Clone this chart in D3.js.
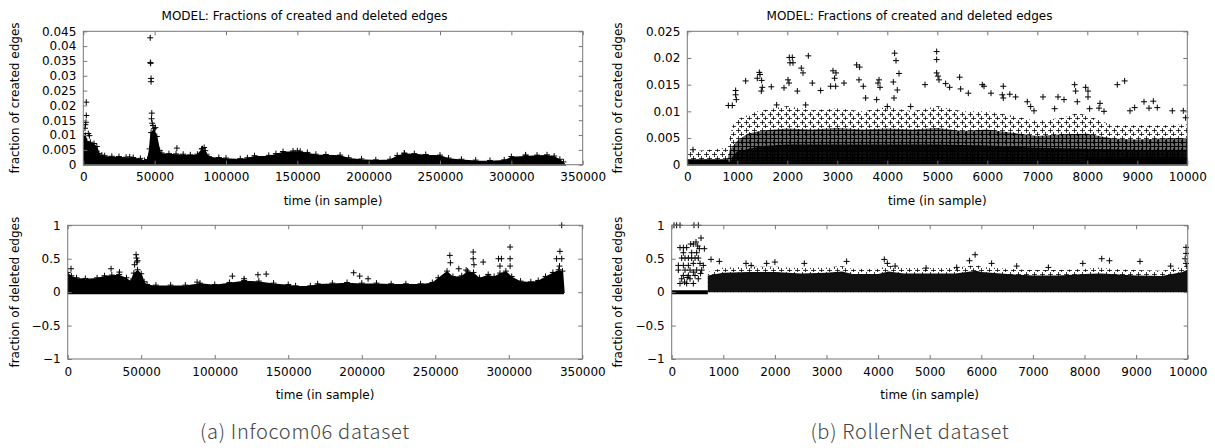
<!DOCTYPE html>
<html>
<head>
<meta charset="utf-8">
<script src="https://cdn.jsdelivr.net/npm/d3@7"></script>
<style>
  body { margin: 0; background: #fff; }
  svg { display: block; }
  .tick text { font-family: "DejaVu Sans", sans-serif; font-size: 12px; fill: #000; }
  .lbl { font-family: "DejaVu Sans", sans-serif; font-size: 12px; fill: #000; }
  .cap { font-family: "Noto Sans CJK KR", "Noto Sans", sans-serif; font-size: 20px; font-weight: 300; letter-spacing: 0.7px; fill: #444; }
</style>
</head>
<body>
<svg id="chart" width="1215" height="448"></svg>
<script>
// ---- data ----

// tick values
const infocomTicksX = [0, 50000, 100000, 150000, 200000, 250000, 300000, 350000];
const rollerTicksX = [0, 1000, 2000, 3000, 4000, 5000, 6000, 7000, 8000, 9000, 10000];
const infocomCreatedTicksY = [0, 0.005, 0.01, 0.015, 0.02, 0.025, 0.03, 0.035, 0.04, 0.045];
const rollerCreatedTicksY = [0, 0.005, 0.01, 0.015, 0.02, 0.025];
const deletedTicksY = [-1, -0.5, 0, 0.5, 1];

// Infocom06, created edges: upper edge of the solid black mass
const infocomCreatedEnv = [[0,0.0102],[1500,0.0095],[2500,0.0075],[5000,0.0072],[7500,0.0068],[9500,0.0058],[11000,0.0034],[13000,0.0029],[15000,0.0027],[20000,0.0025],[25000,0.0024],[30000,0.0022],[35000,0.0021],[40000,0.0018],[43000,0.0011],[45000,0.0014],[46500,0.005],[47500,0.0105],[49500,0.0118],[51500,0.0092],[53500,0.0045],[55000,0.0036],[60000,0.0034],[65000,0.0033],[70000,0.0032],[75000,0.0030],[80000,0.0032],[83000,0.0050],[85500,0.0044],[88000,0.0024],[95000,0.0021],[100000,0.0019],[110000,0.0017],[115000,0.0020],[120000,0.0027],[130000,0.0028],[135000,0.0034],[140000,0.0041],[147000,0.0043],[152000,0.0042],[157000,0.0038],[163000,0.0032],[170000,0.0031],[180000,0.0029],[186000,0.0020],[195000,0.0016],[205000,0.0013],[215000,0.0015],[220000,0.0028],[225000,0.0035],[232000,0.0034],[240000,0.0031],[250000,0.0029],[256000,0.0019],[265000,0.0015],[275000,0.0012],[285000,0.0011],[295000,0.0013],[300000,0.0024],[310000,0.0027],[318000,0.0029],[325000,0.0030],[330000,0.0026],[334000,0.0015],[336500,0.0006],[337500,0]];
const infocomCreatedPts = [[46900,0.0428],[47200,0.0342],[47000,0.0345],[47500,0.0291],[47500,0.0280],[48000,0.0174],[47800,0.0155],[48300,0.0140],[48800,0.0132],[50500,0.0125],[2100,0.0211],[2100,0.0166],[1800,0.0143],[1500,0.0135],[1200,0.0123],[4300,0.0098],[3500,0.0105],[65600,0.0056],[84700,0.0058],[83500,0.0054],[32500,0.0026],[150000,0.0047],[225000,0.0039],[310000,0.0033]];

// Infocom06, deleted edges
const infocomDeletedEnv = [[0,0.28],[2500,0.23],[6000,0.2],[12000,0.19],[20000,0.2],[25000,0.23],[30000,0.24],[35000,0.25],[40000,0.2],[43000,0.15],[45000,0.27],[47500,0.32],[50000,0.26],[52000,0.14],[54000,0.1],[60000,0.09],[70000,0.09],[80000,0.09],[90000,0.12],[100000,0.1],[110000,0.13],[120000,0.16],[130000,0.15],[140000,0.12],[150000,0.1],[155000,0.08],[165000,0.08],[170000,0.11],[180000,0.12],[190000,0.13],[200000,0.12],[210000,0.12],[220000,0.11],[230000,0.11],[240000,0.11],[248000,0.13],[252000,0.2],[258000,0.3],[262000,0.22],[268000,0.23],[272000,0.3],[276000,0.28],[280000,0.2],[286000,0.25],[290000,0.22],[294000,0.27],[298000,0.3],[302000,0.22],[308000,0.15],[315000,0.14],[320000,0.16],[325000,0.22],[330000,0.28],[334000,0.32],[336500,0.3],[337500,0]];
const infocomDeletedPts = [[2250,0.35],[46500,0.56],[46800,0.51],[45500,0.41],[47500,0.47],[47000,0.45],[29500,0.35],[35200,0.3],[194500,0.29],[198600,0.24],[204300,0.2],[129400,0.26],[135000,0.27],[112000,0.24],[259900,0.55],[260300,0.44],[275800,0.6],[275800,0.5],[276300,0.41],[282600,0.45],[293000,0.5],[295000,0.5],[294000,0.39],[300900,0.675],[300900,0.5],[300900,0.39],[334800,0.61],[332500,0.5],[336000,0.5],[334500,0.39],[336000,1.0],[271000,0.33],[266000,0.35],[88000,0.15],[120000,0.2]];

// RollerNet, created edges: thin base strip, darkest lower mass, dense core and sparse cloud above it
const rollerCreatedBase = [[0,0.0009],[800,0.0009],[830,0.0002],[7950,0.0002],[8000,0.0012],[10000,0.0012]];
const rollerCreatedDeep = [[0,0],[850,0],[900,0.0015],[1000,0.0025],[1500,0.0035],[2000,0.0038],[3000,0.0038],[4000,0.0038],[5000,0.0038],[6000,0.0036],[7000,0.0032],[8000,0.0030],[9000,0.0028],[10000,0.0028]];
const rollerCreatedCore = [[0,0.0009],[800,0.0009],[850,0.0028],[1000,0.0045],[1200,0.0058],[1500,0.0064],[2000,0.0068],[2500,0.0066],[3000,0.0069],[3500,0.0066],[4000,0.0068],[4500,0.0066],[5000,0.0069],[5500,0.0063],[6000,0.0066],[6500,0.0060],[7000,0.0054],[7500,0.0057],[8000,0.0058],[8500,0.0049],[9000,0.0047],[9500,0.0049],[10000,0.0050]];
const rollerCreatedCloud = [[0,0.0024],[800,0.0032],[900,0.0072],[1000,0.0085],[1400,0.0100],[2000,0.0110],[2500,0.0102],[3000,0.0106],[3500,0.0100],[4000,0.0108],[4500,0.0100],[5000,0.0110],[5500,0.0100],[6000,0.0100],[6500,0.0092],[7000,0.0082],[7500,0.0088],[7800,0.0097],[8000,0.0092],[8500,0.0074],[9000,0.0074],[9500,0.0074],[10000,0.0076]];
const rollerCreatedPts = [[114,0.0028],[1167,0.0157],[1400,0.0162],[1440,0.0173],[1454,0.0169],[967,0.0139],[967,0.0131],[981,0.0122],[1487,0.0158],[1500,0.0145],[1480,0.0138],[1680,0.0146],[821,0.0111],[900,0.0111],[2040,0.0201],[2100,0.0201],[2054,0.0191],[2114,0.0191],[2420,0.0204],[2280,0.0181],[2314,0.0172],[2014,0.0159],[2034,0.0153],[2500,0.0153],[1787,0.0112],[1934,0.0144],[2200,0.0138],[2367,0.0112],[2667,0.0139],[2914,0.0176],[2974,0.0172],[2947,0.0162],[2867,0.0147],[2967,0.0147],[3134,0.0153],[3387,0.0187],[3447,0.0183],[3434,0.0159],[3520,0.0147],[3834,0.0159],[3814,0.0153],[3854,0.0145],[3787,0.0122],[3567,0.0125],[4147,0.0209],[4174,0.0195],[4120,0.0155],[4234,0.0171],[4200,0.0140],[4134,0.0125],[4000,0.0109],[4467,0.0109],[4754,0.0150],[4987,0.0212],[4987,0.0197],[4987,0.0172],[5014,0.0166],[5034,0.0159],[5167,0.0152],[5447,0.0164],[5247,0.0145],[5467,0.0142],[5620,0.0134],[5900,0.0150],[5934,0.0147],[6074,0.0134],[6320,0.0147],[6300,0.0131],[6320,0.0125],[6450,0.0132],[6567,0.0127],[6800,0.0118],[6867,0.0109],[6934,0.0101],[7114,0.0127],[7414,0.0127],[7534,0.0122],[7347,0.0105],[7747,0.0150],[7767,0.0138],[7800,0.0118],[7967,0.0145],[8014,0.0138],[8014,0.0127],[8047,0.0105],[8254,0.0115],[8234,0.0106],[8600,0.0150],[8747,0.0157],[8334,0.0100],[8854,0.0101],[8947,0.0107],[9134,0.0118],[9234,0.0106],[9320,0.0119],[9400,0.0107],[9700,0.0101],[9920,0.0101],[9967,0.0088]];

// RollerNet, deleted edges
const rollerDeletedZeroRun = [[0,0],[700,0]];
const rollerDeletedCore = [[700,0],[700,0.25],[1000,0.29],[1500,0.3],[2000,0.3],[2500,0.28],[3000,0.29],[3300,0.31],[3500,0.27],[4000,0.27],[4200,0.31],[4500,0.28],[5000,0.28],[5500,0.28],[5900,0.32],[6000,0.3],[6500,0.27],[7000,0.25],[7500,0.25],[8000,0.27],[8300,0.28],[8500,0.27],[9000,0.25],[9500,0.24],[9900,0.3],[10000,0.34]];
const rollerDeletedCloud = [[700,0.3],[1000,0.37],[1500,0.38],[2000,0.38],[2500,0.36],[3000,0.37],[3300,0.39],[3500,0.35],[4000,0.35],[4200,0.4],[4500,0.36],[5000,0.36],[5500,0.36],[5900,0.41],[6000,0.38],[6500,0.35],[7000,0.33],[7500,0.33],[8000,0.35],[8300,0.37],[8500,0.35],[9000,0.33],[9500,0.32],[9900,0.38],[10000,0.43]];
const rollerDeletedPts = [[45,1],[96,1],[161,1],[432,1],[516,1],[568,0.81],[471,0.75],[368,0.72],[419,0.72],[161,0.666],[226,0.666],[290,0.666],[504,0.69],[536,0.65],[633,0.65],[484,0.59],[226,0.59],[387,0.59],[193,0.51],[258,0.51],[323,0.51],[387,0.51],[452,0.51],[516,0.51],[129,0.4],[226,0.4],[323,0.4],[419,0.43],[549,0.43],[129,0.33],[258,0.33],[355,0.33],[484,0.33],[581,0.33],[226,0.25],[323,0.25],[452,0.25],[193,0.2],[355,0.2],[516,0.2],[161,0.13],[290,0.13],[419,0.13],[613,0.4],[560,0.28],[420,0.3],[300,0.22],[250,0.15],[762,0.49],[923,0.46],[1440,0.43],[1540,0.4],[1840,0.43],[2000,0.45],[2570,0.43],[3390,0.46],[4120,0.49],[4180,0.43],[4330,0.39],[4930,0.36],[5523,0.37],[5880,0.56],[5770,0.47],[6200,0.43],[6686,0.39],[7300,0.37],[7967,0.43],[8334,0.5],[8483,0.47],[9075,0.46],[9670,0.39],[9967,0.67],[9967,0.58],[9967,0.43],[9950,0.5]];

// ---- layout ----
const svg = d3.select("#chart");
const plus = "M-3,0H3M0,-3V3";

// textures made of small "+" marks for the scattered clouds
const defs = svg.append("defs");
const dense = defs.append("pattern").attr("id", "dense")
  .attr("patternUnits", "userSpaceOnUse").attr("width", 4).attr("height", 4);
dense.append("rect").attr("width", 4).attr("height", 4).attr("fill", "#000").attr("fill-opacity", 0.55);
dense.append("path").attr("d", "M0,2.5H4M2.5,0V4").attr("stroke", "#000").attr("stroke-width", 1.2);
const deep = defs.append("pattern").attr("id", "deep")
  .attr("patternUnits", "userSpaceOnUse").attr("width", 5).attr("height", 3);
deep.append("rect").attr("width", 5).attr("height", 3).attr("fill", "#000").attr("fill-opacity", 0.85);
deep.append("path").attr("d", "M0,1.5H5M2.5,0V3").attr("stroke", "#000").attr("stroke-width", 1);
const sparse = defs.append("pattern").attr("id", "sparse")
  .attr("patternUnits", "userSpaceOnUse").attr("width", 8).attr("height", 8);
sparse.append("path").attr("d", "M0,2.5H5M2.5,0V5M3,6.5H8M5.5,4V9")
  .attr("stroke", "#000").attr("stroke-width", 1).attr("stroke-opacity", 0.75);

function panel(p) {
  const x = d3.scaleLinear().domain(p.xDomain).range([p.left, p.right]);
  const y = d3.scaleLinear().domain(p.yDomain).range([p.bottom, p.top]);
  const g = svg.append("g");

  const clipId = "clip" + p.id;
  svg.append("clipPath").attr("id", clipId)
    .append("rect").attr("x", p.left).attr("y", p.top - 4)
    .attr("width", p.right - p.left + 4).attr("height", p.bottom - p.top + 6);
  const marks = g.append("g").attr("clip-path", "url(#" + clipId + ")");

  const area = d3.area().x(d => x(d[0])).y0(y(0)).y1(d => y(d[1]));

  (p.layers || []).forEach(l => {
    marks.append("path").datum(l.data)
      .attr("fill", l.fill)
      .attr("stroke", l.fill === "#000" ? "#000" : "none").attr("stroke-width", 1.5)
      .attr("d", area);
    if (l.fuzz) {
      marks.append("g").selectAll("path").data(l.data.slice(0, -1)).join("path")
        .attr("transform", d => `translate(${x(d[0])},${y(d[1]) - 1})`)
        .attr("d", plus).attr("stroke", "#000").attr("stroke-width", 1);
    }
  });
  if (p.zeroLine) {
    marks.append("line")
      .attr("x1", x(p.zeroLine[0][0])).attr("x2", x(p.zeroLine[1][0]))
      .attr("y1", y(0)).attr("y2", y(0))
      .attr("stroke", "#000").attr("stroke-width", 4);
  }
  marks.append("g").selectAll("path").data(p.points).join("path")
    .attr("transform", d => `translate(${x(d[0])},${y(d[1])})`)
    .attr("d", plus).attr("stroke", "#000").attr("stroke-width", 1);

  // frame
  g.append("rect").attr("x", p.left).attr("y", p.top)
    .attr("width", p.right - p.left).attr("height", p.bottom - p.top)
    .attr("fill", "none").attr("stroke", "#777").attr("stroke-width", 1);

  // axes, ticks pointing inwards like gnuplot
  const ax = [
    [d3.axisBottom(x).tickValues(p.xTicks).tickFormat(d3.format("d")).tickSize(-4).tickPadding(8), `translate(0,${p.bottom})`],
    [d3.axisTop(x).tickValues(p.xTicks).tickFormat("").tickSize(-4), `translate(0,${p.top})`],
    [d3.axisLeft(y).tickValues(p.yTicks).tickFormat(d => d3.format("")(d)).tickSize(-4).tickPadding(7), `translate(${p.left},0)`],
    [d3.axisRight(y).tickValues(p.yTicks).tickFormat("").tickSize(-4), `translate(${p.right},0)`]
  ];
  ax.forEach(([a, t]) => {
    const ag = g.append("g").attr("transform", t).call(a);
    ag.select(".domain").remove();
    ag.selectAll(".tick line").attr("stroke", "#777");
    ag.attr("font-family", null).attr("font-size", null);
  });

  if (p.title) {
    g.append("text").attr("class", "lbl").attr("x", p.titleX).attr("y", 20)
      .attr("text-anchor", "middle").text(p.title);
  }
  g.append("text").attr("class", "lbl")
    .attr("x", (p.left + p.right) / 2).attr("y", p.bottom + 40)
    .attr("text-anchor", "middle").text("time (in sample)");
  g.append("text").attr("class", "lbl")
    .attr("transform", `translate(${p.yLabelX},${(p.top + p.bottom) / 2}) rotate(-90)`)
    .attr("text-anchor", "middle").attr("dy", "0.35em").text(p.yLabel);
}

const title = "MODEL: Fractions of created and deleted edges";

panel({ id: "at", left: 83.3, right: 582.7, top: 31.3, bottom: 164.7,
  xDomain: [0, 350000], yDomain: [0, 0.045], xTicks: infocomTicksX, yTicks: infocomCreatedTicksY,
  layers: [{ data: infocomCreatedEnv, fill: "#000", fuzz: true }], points: infocomCreatedPts,
  title: title, titleX: 304.5, yLabel: "fraction of created edges", yLabelX: 15 });

panel({ id: "ab", left: 67.7, right: 582.3, top: 225.3, bottom: 359,
  xDomain: [0, 350000], yDomain: [-1, 1], xTicks: infocomTicksX, yTicks: deletedTicksY,
  layers: [{ data: infocomDeletedEnv, fill: "#000", fuzz: true }], zeroLine: [[0, 0], [337500, 0]],
  points: infocomDeletedPts, yLabel: "fraction of deleted edges", yLabelX: 15 });

panel({ id: "bt", left: 687.3, right: 1187.3, top: 31.3, bottom: 164.7,
  xDomain: [0, 10000], yDomain: [0, 0.025], xTicks: rollerTicksX, yTicks: rollerCreatedTicksY,
  layers: [{ data: rollerCreatedCloud, fill: "url(#sparse)" }, { data: rollerCreatedCore, fill: "url(#dense)" },
           { data: rollerCreatedDeep, fill: "url(#deep)" }, { data: rollerCreatedBase, fill: "#000" }],
  points: rollerCreatedPts,
  title: title, titleX: 909.5, yLabel: "fraction of created edges", yLabelX: 618 });

panel({ id: "bb", left: 671.7, right: 1187.7, top: 225.3, bottom: 359,
  xDomain: [0, 10000], yDomain: [-1, 1], xTicks: rollerTicksX, yTicks: deletedTicksY,
  layers: [{ data: rollerDeletedCloud, fill: "url(#sparse)" }, { data: rollerDeletedCore, fill: "#111" }],
  zeroLine: rollerDeletedZeroRun, points: rollerDeletedPts,
  yLabel: "fraction of deleted edges", yLabelX: 618 });

// captions
svg.append("text").attr("class", "cap").attr("x", 305).attr("y", 439)
  .attr("text-anchor", "middle").text("(a) Infocom06 dataset");
svg.append("text").attr("class", "cap").attr("x", 910).attr("y", 439)
  .attr("text-anchor", "middle").text("(b) RollerNet dataset");
</script>
</body>
</html>
